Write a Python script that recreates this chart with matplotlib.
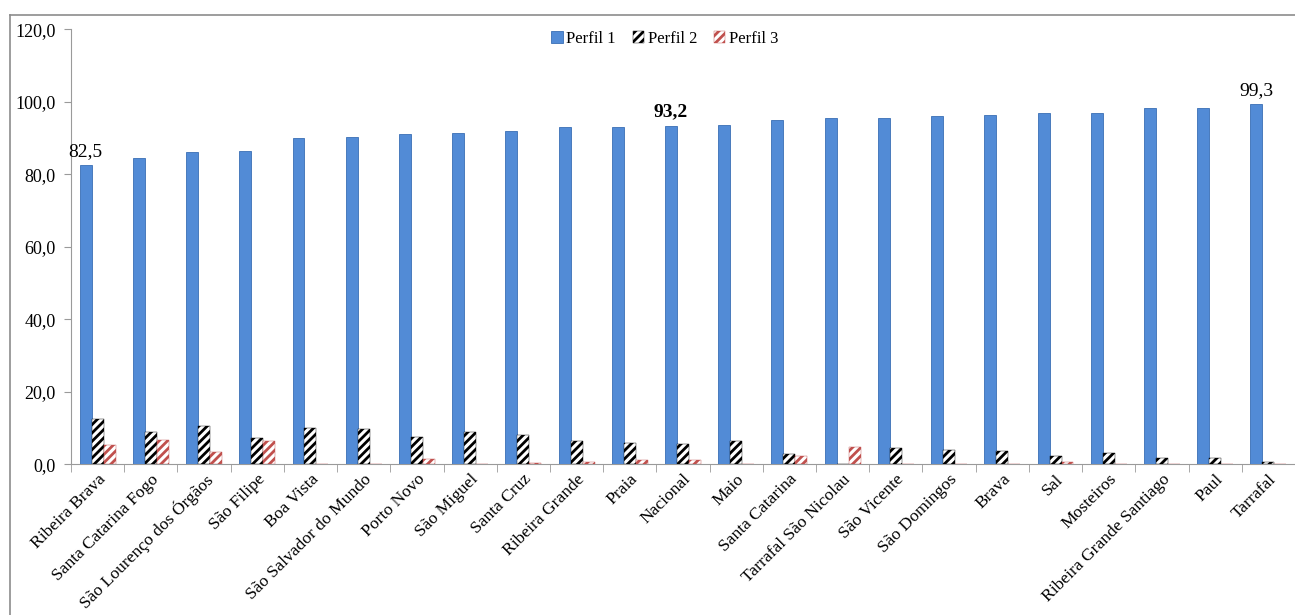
import numpy as np
import matplotlib
matplotlib.use("Agg")
import matplotlib.pyplot as plt
from matplotlib.ticker import FuncFormatter, MultipleLocator, FixedLocator
from matplotlib.lines import Line2D

municipios = ["Ribeira Brava", "Santa Catarina Fogo", "São Lourenço dos Órgãos",
              "São Filipe", "Boa Vista", "São Salvador do Mundo", "Porto Novo",
              "São Miguel", "Santa Cruz", "Ribeira Grande", "Praia", "Nacional",
              "Maio", "Santa Catarina", "Tarrafal São Nicolau", "São Vicente",
              "São Domingos", "Brava", "Sal", "Mosteiros",
              "Ribeira Grande Santiago", "Paul", "Tarrafal"]
perfil1 = [82.5, 84.4, 86.2, 86.5, 90.0, 90.3, 91.1, 91.4, 92.0, 93.0, 93.0, 93.2,
           93.7, 95.0, 95.4, 95.5, 96.1, 96.4, 96.9, 96.9, 98.2, 98.4, 99.3]
perfil2 = [12.4, 9.0, 10.7, 7.2, 10.1, 9.8, 7.5, 8.8, 8.0, 6.4, 5.9, 5.5,
           6.4, 2.9, 0.0, 4.4, 4.0, 3.7, 2.4, 3.2, 1.7, 1.7, 0.7]
perfil3 = [5.3, 6.6, 3.5, 6.5, 0.0, 0.0, 1.5, 0.1, 0.4, 0.6, 1.2, 1.2,
           0.0, 2.2, 4.7, 0.0, 0.0, 0.0, 0.7, 0.0, 0.0, 0.0, 0.0]
series = ["Perfil 1", "Perfil 2", "Perfil 3"]

plt.rcParams['font.family'] = ['Liberation Serif', 'DejaVu Serif']
plt.rcParams['hatch.linewidth'] = 2.0

fig = plt.figure(figsize=(12.95, 6.15), dpi=100)
ax = fig.add_axes([71/1295, 1-464.3/615, 1-71/1295, (464.3-29.3)/615])

x = np.arange(len(municipios))
w = 0.225
ax.bar(x - w, perfil1, w, color='#528bd6', edgecolor='#3a6fb5', linewidth=0.6,
       label=series[0], zorder=3)
ax.bar(x, perfil2, w, color='white', edgecolor='black', hatch='////',
       linewidth=0.3, label=series[1], zorder=3)
ax.bar(x + w, perfil3, w, color='white', edgecolor='#c0504d', hatch='////',
       linewidth=0.3, label=series[2], zorder=3)

ax.set_xlim(-0.5, len(municipios) - 0.5)
ax.set_ylim(0, 120)
ax.yaxis.set_major_locator(MultipleLocator(20))
ax.yaxis.set_major_formatter(FuncFormatter(lambda v, p: f"{v:.1f}".replace('.', ',')))

ax.set_xticks(x)
ax.set_xticklabels(municipios, rotation=45, ha='right', rotation_mode='anchor',
                   fontsize=12.6)
ax.xaxis.set_minor_locator(FixedLocator(np.arange(-0.5, len(municipios), 1)))
ax.tick_params(axis='x', which='major', length=0, pad=5)
ax.tick_params(axis='x', which='minor', length=6, color='#9a9a9a')
ax.tick_params(axis='y', length=5, color='#9a9a9a', labelsize=13, pad=6)

for s in ['top', 'right']:
    ax.spines[s].set_visible(False)
for s in ['left', 'bottom']:
    ax.spines[s].set_color('#9a9a9a')

# annotations
ax.text(x[0] - w, perfil1[0] + 1.5, "82,5", ha='center', va='bottom', fontsize=14)
ax.text(x[11] - w, perfil1[11] + 1.8, "93,2", ha='center', va='bottom', fontsize=14,
        fontweight='bold')
ax.text(x[-1] - w, perfil1[-1] + 1.5, "99,3", ha='center', va='bottom', fontsize=14)

ax.legend(loc='upper center', bbox_to_anchor=(0.485, 1.02), ncol=3, frameon=False,
          fontsize=12, handlelength=0.7, handleheight=0.7, handletextpad=0.2,
          columnspacing=1.0, borderaxespad=0.2)

# outer chart border
fig.add_artist(Line2D([10/1295, 10/1295], [0, 1-15/615], color='#8c8c8c', lw=1.2))
fig.add_artist(Line2D([10/1295, 1], [1-15/615, 1-15/615], color='#8c8c8c', lw=1.2))

fig.savefig("out.png", dpi=100)
